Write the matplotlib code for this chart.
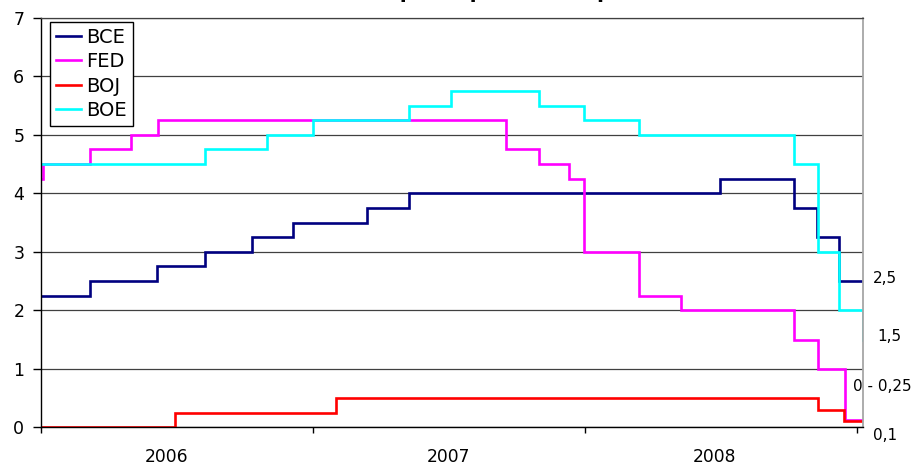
import matplotlib
matplotlib.use("Agg")
import matplotlib.pyplot as plt
import matplotlib.transforms as mtransforms

# ---- data (x in months since Jan 2006) ----
x_end = 36.28
bce_x = [0, 2.16, 5.12, 7.22, 9.31, 11.13, 14.37, 16.25, 29.98, 33.24, 34.23, 35.24]
bce_y = [2.25, 2.5, 2.75, 3.0, 3.25, 3.5, 3.75, 4.0, 4.25, 3.75, 3.25, 2.5]
fed_x = [0, 0.08, 2.16, 3.96, 5.15, 20.52, 21.99, 23.31, 23.97, 26.38, 28.25, 33.23, 34.28, 35.48]
fed_y = [4.25, 4.5, 4.75, 5.0, 5.25, 4.75, 4.5, 4.25, 3.0, 2.25, 2.0, 1.5, 1.0, 0.125]
boj_x = [0, 5.91, 13.0, 34.28, 35.45]
boj_y = [0, 0.25, 0.5, 0.3, 0.1]
boe_x = [0, 7.22, 9.97, 11.99, 16.25, 18.09, 21.99, 23.98, 26.38, 33.24, 34.28, 35.23, 36.26]
boe_y = [4.5, 4.75, 5.0, 5.25, 5.5, 5.75, 5.5, 5.25, 5.0, 4.5, 3.0, 2.0, 1.5]

series_names = ["BCE", "FED", "BOJ", "BOE"]
series_colors = ["#000080", "#FF00FF", "#FF0000", "#00FFFF"]
year_labels = ["2006", "2007", "2008"]
year_label_pos = [5.52, 18.0, 29.74]
year_tick_pos = [0, 12, 24, 36]
y_ticks = [0, 1, 2, 3, 4, 5, 6, 7]
end_labels = ["2,5", "1,5", "0 - 0,25", "0,1"]
end_label_y = [2.468, 1.473, 0.625, -0.217]
end_label_xfrac = [1.0118, 1.0179, 0.9878, 1.0118]
title = "Taux directeurs des principales banques centrales"

plt.rcParams["font.family"] = ["DejaVu Sans"]

W, H = 915, 466
fig = plt.figure(figsize=(W / 100, H / 100), dpi=100)
fig.patch.set_facecolor("white")
ax = fig.add_axes([41 / W, (H - 427.3) / H, 822 / W, 409.5 / H])

xs_all = [bce_x, fed_x, boj_x, boe_x]
ys_all = [bce_y, fed_y, boj_y, boe_y]
for xs, ys, name, col in zip(xs_all, ys_all, series_names, series_colors):
    ax.step(list(xs) + [x_end], list(ys) + [ys[-1]], where="post",
            color=col, lw=1.9, label=name, solid_joinstyle="miter")

ax.set_xlim(0, x_end)
ax.set_ylim(0, 7)

ax.set_yticks(y_ticks)
ax.set_yticklabels([str(v) for v in y_ticks])
ax.tick_params(axis="y", which="major", length=5.5, width=1, pad=6.5,
               labelsize=12.5, direction="out", colors="black")

ax.set_xticks(year_tick_pos)
ax.set_xticklabels([])
ax.tick_params(axis="x", which="major", length=4, width=1, direction="out")
ax.set_xticks(year_label_pos, minor=True)
ax.set_xticklabels(year_labels, minor=True)
ax.tick_params(axis="x", which="minor", length=0, pad=14.6, labelsize=12.3)

ax.yaxis.grid(True, color="#404040", lw=0.9)
ax.set_axisbelow(True)

for s in ["left", "bottom"]:
    ax.spines[s].set_color("black")
    ax.spines[s].set_linewidth(1.0)
ax.spines["top"].set_color("#404040")
ax.spines["top"].set_linewidth(0.9)
ax.spines["right"].set_color("#a6a6a6")
ax.spines["right"].set_linewidth(1.3)

leg = ax.legend(loc="upper left", bbox_to_anchor=(9 / 822, 1 - 4 / 409.5),
                borderaxespad=0, fontsize=14, handlelength=1.3,
                handletextpad=0.28, borderpad=0.3, labelspacing=0.28,
                fancybox=False, framealpha=1, edgecolor="black")
leg.get_frame().set_linewidth(1.0)

trans = mtransforms.blended_transform_factory(ax.transAxes, ax.transData)
for txt, yv, xf in zip(end_labels, end_label_y, end_label_xfrac):
    ax.text(xf, yv, txt, transform=trans, ha="left", va="baseline",
            fontsize=11, clip_on=False)

fig.text(0.5022, 1 + 2.6 / H, title, ha="center", va="baseline",
         fontsize=18.5, fontweight="bold", family=["Liberation Sans"])

fig.savefig("out.png", dpi=100)
